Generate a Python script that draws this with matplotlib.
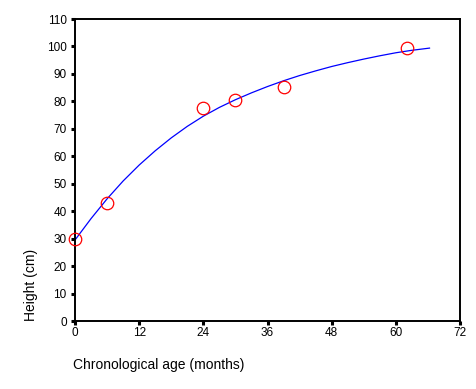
import numpy as np
import matplotlib
matplotlib.use("Agg")
import matplotlib.pyplot as plt
import matplotlib as mpl

mpl.rcParams['font.family'] = ['Liberation Sans', 'DejaVu Sans']

# measured points
age_months = [0, 6, 24, 30, 39, 62]
height_cm = [30, 43, 77.5, 80.5, 85.3, 99.3]

# fitted curve, every 3 months
curve_age = [0, 3, 6, 9, 12, 15, 18, 21, 24, 27, 30, 33, 36, 39, 42, 45,
             48, 51, 54, 57, 60, 63, 66.3]
curve_height = [29.5, 37.3, 44.5, 51.0, 56.8, 62.0, 66.7, 70.9, 74.6, 77.8,
                80.6, 83.1, 85.4, 87.5, 89.4, 91.1, 92.7, 94.1, 95.4, 96.6,
                97.7, 98.6, 99.4]

x_ticks = [0, 12, 24, 36, 48, 60, 72]
y_ticks = list(range(0, 111, 10))

W, H = 476, 389
fig = plt.figure(figsize=(W / 100, H / 100), dpi=100)
ax = fig.add_axes([75 / W, 1 - 321 / H, 385 / W, 302 / H])

ax.plot(curve_age, curve_height, color='#0000ff', lw=0.9, zorder=2)
ax.plot(age_months, height_cm, 'o', ms=9, mfc='none', mec='#ff0000', mew=0.9,
        clip_on=False, zorder=3)

ax.set_xlim(0, 72)
ax.set_ylim(0, 110)
ax.set_xticks(x_ticks)
ax.set_yticks(y_ticks)

for s in ax.spines.values():
    s.set_linewidth(1.4)
    s.set_color('black')

ax.tick_params(axis='both', direction='out', length=3, width=2.2,
               labelsize=8.5, colors='black')
ax.tick_params(axis='x', pad=1.5)
ax.tick_params(axis='y', pad=3)

ax.set_xlabel('Chronological age (months)', fontsize=10, ha='left', va='center')
ax.xaxis.set_label_coords(-2 / 385, -44 / 302)
ax.set_ylabel('Height (cm)', fontsize=10, va='center')
ax.yaxis.set_label_coords(-44 / 385, 36 / 302)

fig.savefig('out.png', dpi=100)
